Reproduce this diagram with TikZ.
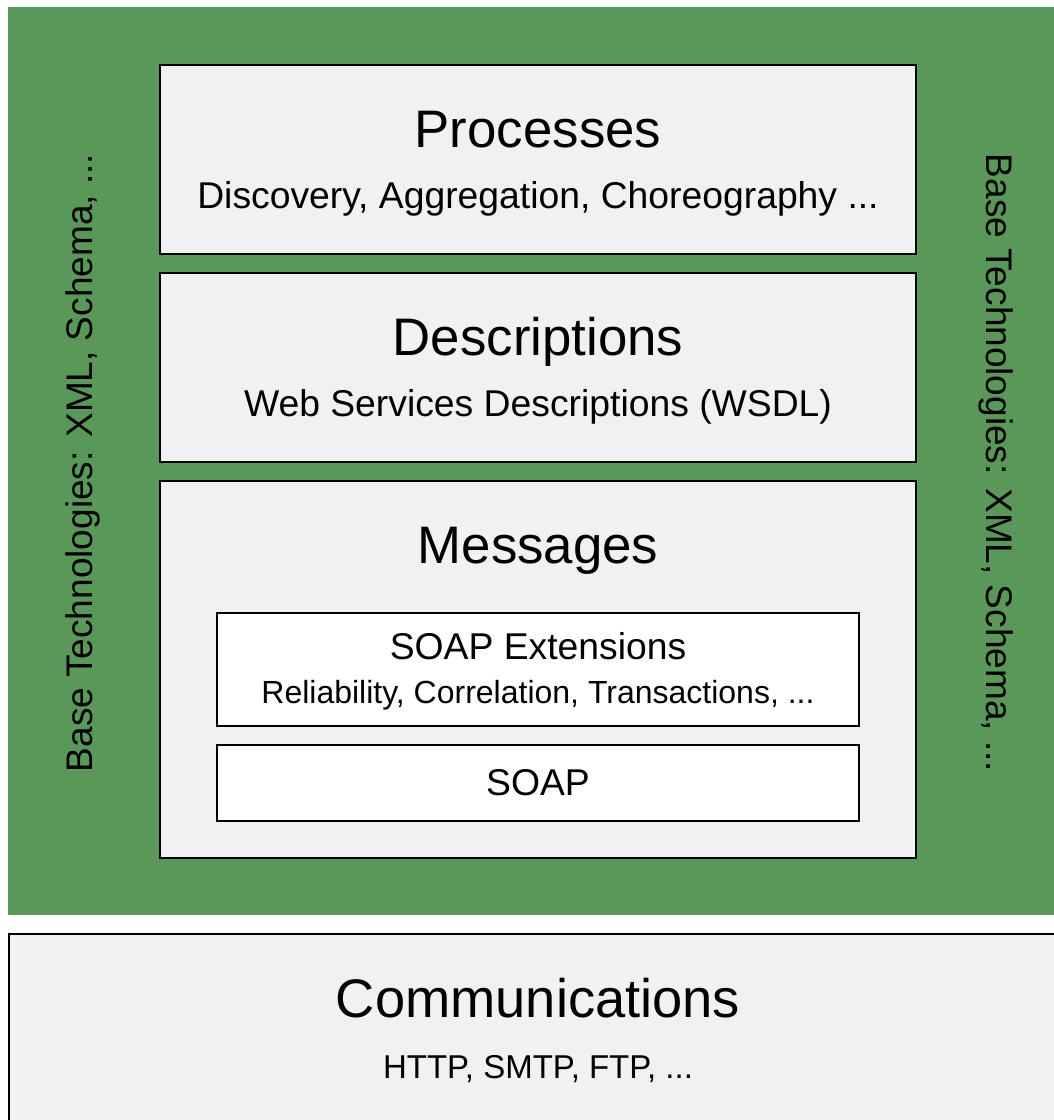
\documentclass[tikz,border=0pt]{standalone}
\usepackage{fontspec}
\setmainfont{Liberation Sans}
\definecolor{basegreen}{RGB}{90,152,90}
\definecolor{layerfill}{RGB}{241,241,241}
\tikzset{
  layer/.style={draw=black, line width=2pt, fill=layerfill},
  sublayer/.style={draw=black, line width=2pt, fill=white},
  titletext/.style={anchor=base, inner sep=0pt, font=\fontsize{52.8}{60}\selectfont},
  subtext/.style={anchor=base, inner sep=0pt, font=\fontsize{37.3}{44}\selectfont},
  smalltext/.style={anchor=base, inner sep=0pt, font=\fontsize{32}{38}\selectfont},
  sidetext/.style={anchor=base, inner sep=0pt, font=\fontsize{37}{44}\selectfont}
}
\begin{document}
\begin{tikzpicture}[x=1pt,y=-1pt]
\useasboundingbox (0,0) rectangle (1054,1120);
\clip (0,0) rectangle (1054,1120);

% base technologies band
\fill[basegreen] (8,7) rectangle (1054,915);

% stacked layers
\draw[layer] (160,65) rectangle (916,254);
\draw[layer] (160,273) rectangle (916,462);
\draw[layer] (160,481) rectangle (916,858);
\draw[sublayer] (217,613) rectangle (859,726);
\draw[sublayer] (217,745) rectangle (859,821);
\draw[layer] (9,934) rectangle (1060,1126);

% layer labels
\node[titletext] (proc) at (538,147.5) {Processes};
\node[subtext] (procsub) at (538,208.5) {Discovery, Aggregation, Choreography ...};
\node[titletext] (desc) at (538,355.5) {Descriptions};
\node[subtext] (descsub) at (538,416.5) {Web Services Descriptions (WSDL)};
\node[titletext] (msg) at (538,563.5) {Messages};
\node[subtext] (soapext) at (538,659) {SOAP Extensions};
\node[smalltext] (soapextsub) at (538,703.5) {Reliability, Correlation, Transactions, ...};
\node[subtext] (soap) at (538,795) {SOAP};
\node[titletext, font=\fontsize{54.3}{62}\selectfont] (comm) at (538,1017.5) {Communications};
\node[smalltext, font=\fontsize{33}{40}\selectfont] (commsub) at (538,1078.5) {HTTP, SMTP, FTP, ...};

% side labels
\node[sidetext, rotate=90] (leftbase) at (92,463) {Base Technologies: XML, Schema, ...};
\node[sidetext, rotate=-90] (rightbase) at (986,463) {Base Technologies: XML, Schema, ...};
\end{tikzpicture}
\end{document}
